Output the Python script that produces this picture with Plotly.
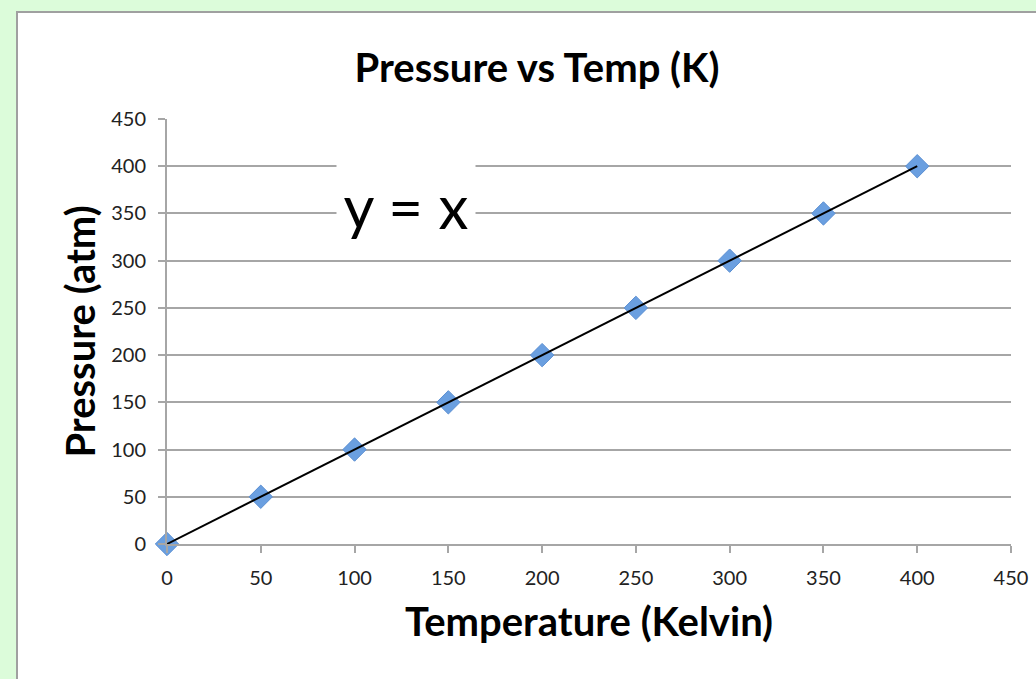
import numpy as np
import plotly.graph_objects as go

temperature = [0, 50, 100, 150, 200, 250, 300, 350, 400]
pressure = [0, 50, 100, 150, 200, 250, 300, 350, 400]
tick_vals = [0, 50, 100, 150, 200, 250, 300, 350, 400, 450]

slope, intercept = np.polyfit(temperature, pressure, 1)
fit_x = [min(temperature), max(temperature)]
fit_y = [slope * v + intercept for v in fit_x]

GRID = "#a6a6a6"
FONT = "Lato"

fig = go.Figure()
fig.add_trace(go.Scatter(
    x=temperature, y=pressure, mode="markers", cliponaxis=False,
    marker=dict(symbol="diamond", size=18, color="#6a9fe0",
                line=dict(color="#5b8fd2", width=1)),
    showlegend=False, hoverinfo="x+y"))
fig.add_trace(go.Scatter(
    x=fit_x, y=fit_y, mode="lines", cliponaxis=False,
    line=dict(color="black", width=2),
    showlegend=False, hoverinfo="skip"))

fig.update_layout(
    width=1036, height=679,
    margin=dict(l=167, r=25, t=119, b=135, autoexpand=False),
    paper_bgcolor="#dcfcda",
    plot_bgcolor="white",
    font=dict(family=FONT, color="#222222"),
    title=dict(text="<b>Pressure vs Temp (K)</b>", xref="container", yref="container",
               x=537 / 1036, y=1 - 68 / 679, xanchor="center", yanchor="middle",
               font=dict(size=40, color="black", family=FONT)),
    shapes=[dict(type="rect", xref="paper", yref="paper",
                 x0=(17 - 167) / 844, x1=1.2, y0=-0.5, y1=(544 - 12) / 425,
                 fillcolor="white", line=dict(color="#a0a0a0", width=2), layer="below")],
    annotations=[dict(text="y = x", xref="x", yref="y", x=127.4, y=358,
                      showarrow=False, bgcolor="white", width=136, height=95,
                      valign="middle", font=dict(size=60, color="black", family=FONT))],
)
fig.update_xaxes(
    range=[0, 450], tickvals=tick_vals, showgrid=False, zeroline=False,
    automargin=False,
    showline=True, linecolor=GRID, linewidth=2,
    ticks="outside", ticklen=7, tickwidth=2, tickcolor=GRID,
    tickfont=dict(size=20, color="#222222"), ticklabelstandoff=8,
    title=dict(text="<b>Temperature (Kelvin)</b>", standoff=20,
               font=dict(size=40, color="black")))
fig.update_yaxes(
    range=[0, 450], tickvals=tick_vals, showgrid=True, gridcolor=GRID, gridwidth=2,
    zeroline=False, automargin=False,
    showline=True, linecolor=GRID, linewidth=2,
    ticks="outside", ticklen=7, tickwidth=2, tickcolor=GRID,
    tickfont=dict(size=20, color="#222222"), ticklabelstandoff=8,
    title=dict(text="<b>Pressure (atm)</b>", standoff=3,
               font=dict(size=40, color="black")))

fig.write_html("out.html", config={"displayModeBar": False},
               post_script="document.body.style.margin='0';")
